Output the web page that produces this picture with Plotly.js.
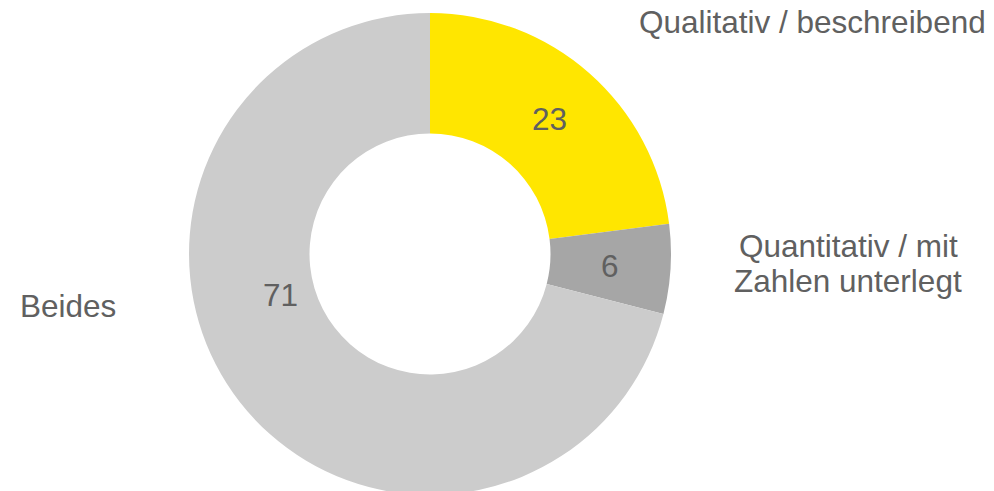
<!DOCTYPE html>
<html>
<head>
<meta charset="utf-8">
<script src="https://cdn.plot.ly/plotly-3.0.1.min.js"></script>
<style>
html,body{margin:0;padding:0;overflow:hidden;background:#fff;}
#chart{width:994px;height:500px;}
</style>
</head>
<body>
<div id="chart"></div>
<script>
const categories = ["Qualitativ / beschreibend", "Quantitativ / mit\nZahlen unterlegt", "Beides"];
const values = [23, 6, 71];
const colors = ["#FFE600", "#A6A6A6", "#CCCCCC"];

// label and value positions (pixels in a 994x500 canvas)
const labelPos = [[988, 22, "right"], [848, 246, "center"], [68, 306, "center"]];
const lineGap = 35;
const valuePos = [[549, 119], [610, 266], [280, 295]];

const W = 994, H = 500;
const font = {family: "Liberation Sans", size: 31.5, color: "#606060"};

const annotations = [];
categories.forEach((c, i) => {
  c.split("\n").forEach((line, j) => {
    annotations.push({
      xref: "paper", yref: "paper",
      x: labelPos[i][0] / W, y: (H - labelPos[i][1] - j * lineGap) / H,
      xanchor: labelPos[i][2], yanchor: "middle",
      text: line, showarrow: false, font: font
    });
  });
  annotations.push({
    xref: "paper", yref: "paper",
    x: valuePos[i][0] / W, y: (H - valuePos[i][1]) / H,
    xanchor: "center", yanchor: "middle",
    text: String(values[i]), showarrow: false, font: font
  });
});

const cx = 430, cy = 254, r = 241;
Plotly.newPlot("chart", [{
  type: "pie",
  values: values,
  labels: categories,
  marker: {colors: colors, line: {width: 0}},
  hole: 0.5,
  sort: false,
  direction: "clockwise",
  rotation: 0,
  textinfo: "none",
  hoverinfo: "none",
  domain: {x: [(cx - r) / W, (cx + r) / W], y: [(H - cy - r) / H, (H - cy + r) / H]}
}], {
  width: W, height: H,
  margin: {l: 0, r: 0, t: 0, b: 0},
  showlegend: false,
  paper_bgcolor: "#fff",
  annotations: annotations
}, {displayModeBar: false, staticPlot: true});
</script>
</body>
</html>
